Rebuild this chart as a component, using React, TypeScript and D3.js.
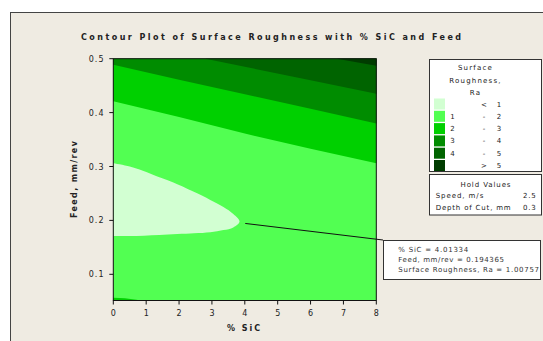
import * as d3 from 'd3';

// axes
const SIC_DOMAIN: [number, number] = [0, 8];
const FEED_DOMAIN: [number, number] = [0.0514, 0.5];
const SIC_TICKS = [0, 1, 2, 3, 4, 5, 6, 7, 8];
const FEED_TICKS = [0.1, 0.2, 0.3, 0.4, 0.5];

// contour bands, Ra
const BAND_COLORS = ['#d2ffd2', '#52ff52', '#00d000', '#008c00', '#006400', '#003c00'];
const LEGEND_LO = ['', '1', '2', '3', '4', ''];
const LEGEND_SYM = ['<', '-', '-', '-', '-', '>'];
const LEGEND_HI = ['1', '2', '3', '4', '5', '5'];

// contour lines: [% SiC, feed]
const RA2_LINE = [[0, 0.421], [2, 0.392], [4, 0.361], [6, 0.333], [8, 0.306]];
const RA3_LINE = [[0, 0.489], [2, 0.461], [4, 0.434], [6, 0.407], [8, 0.38]];
const RA4_LINE = [[2.8, 0.5], [4, 0.485], [6, 0.46], [8, 0.435]];
const RA5_LINE = [[6.8, 0.5], [8, 0.487]];
const RA1_REGION = [
  [0, 0.306], [0.5, 0.3], [0.9, 0.292], [1.4, 0.28], [1.75, 0.272], [2.45, 0.253],
  [2.95, 0.238], [3.35, 0.225], [3.65, 0.212], [3.84, 0.198], [3.65, 0.187],
  [3.35, 0.182], [2.95, 0.178], [2.45, 0.176], [1.4, 0.173], [0.5, 0.171], [0, 0.171],
];
const RA2_CORNER = [[0, 0.0514], [0, 0.0565], [0.35, 0.0555], [0.7, 0.053], [0.85, 0.0514]];

// hold values + crosshair readout
const HOLD_LABELS = ['Speed, m/s', 'Depth of Cut, mm'];
const HOLD_VALUES = ['2.5', '0.3'];
const PROBE = { sic: 4.01334, feed: 0.194365, ra: 1.00757 };

const FONT = 'DejaVu Sans, Verdana, sans-serif';
const INK = '#222';

export default function App() {
  const W = 543, H = 341;
  const x = d3.scaleLinear().domain(SIC_DOMAIN).range([113.3, 376.3]);
  const y = d3.scaleLinear().domain(FEED_DOMAIN).range([300.5, 58.7]);
  const top = y(FEED_DOMAIN[1]), bottom = y(FEED_DOMAIN[0]);
  const left = x(SIC_DOMAIN[0]), right = x(SIC_DOMAIN[1]);

  const above = d3.area<number[]>().x(d => x(d[0])).y0(top).y1(d => y(d[1]));
  const closed = d3.line<number[]>().x(d => x(d[0])).y(d => y(d[1])).curve(d3.curveCatmullRom);
  const poly = d3.line<number[]>().x(d => x(d[0])).y(d => y(d[1]));

  const px = x(PROBE.sic), py = y(PROBE.feed);
  const box = { x: 383, y: 240, w: 157, h: 39 };

  return (
    <div style={{ position: 'fixed', left: 0, top: 0 }}>
      <svg width={W} height={H} style={{ display: 'block', background: '#fff' }}>
        <rect x={10.5} y={12.5} width={600} height={400} fill="#efebe2" stroke="#444" />

        <text x={271} y={40} textAnchor="middle" fontFamily={FONT} fontSize={8} fontWeight="bold"
          fill={INK} textLength={380} lengthAdjust="spacing">
          Contour Plot of Surface Roughness with % SiC and Feed
        </text>

        {/* bands */}
        <rect x={left} y={top} width={right - left} height={bottom - top} fill={BAND_COLORS[1]} />
        <path d={above(RA2_LINE) ?? ''} fill={BAND_COLORS[2]} />
        <path d={above(RA3_LINE) ?? ''} fill={BAND_COLORS[3]} />
        <path d={above(RA4_LINE) ?? ''} fill={BAND_COLORS[4]} />
        <path d={above(RA5_LINE) ?? ''} fill={BAND_COLORS[5]} />
        <path d={(poly(RA2_CORNER) ?? '') + 'Z'} fill={BAND_COLORS[2]} />
        <path d={(closed(RA1_REGION) ?? '') + 'Z'} fill={BAND_COLORS[0]} />

        <rect x={left} y={top} width={right - left} height={bottom - top} fill="none" stroke="#111" />

        {FEED_TICKS.map(t => (
          <g key={t}>
            <line x1={left - 4} x2={left} y1={y(t)} y2={y(t)} stroke="#111" />
            <text x={104.5} y={y(t) + 3} textAnchor="end" fontFamily={FONT} fontSize={8}
              letterSpacing={1} fill={INK}>{t.toFixed(1)}</text>
          </g>
        ))}
        {SIC_TICKS.map(t => (
          <g key={t}>
            <line x1={x(t)} x2={x(t)} y1={bottom} y2={bottom + 4} stroke="#111" />
            <text x={x(t)} y={316} textAnchor="middle" fontFamily={FONT} fontSize={8} fill={INK}>{t}</text>
          </g>
        ))}
        <text x={243.5} y={330.5} textAnchor="middle" fontFamily={FONT} fontSize={8} fontWeight="bold"
          fill={INK} textLength={33} lengthAdjust="spacing">% SiC</text>
        <text transform={`translate(77,${(top + bottom) / 2}) rotate(-90)`} textAnchor="middle"
          fontFamily={FONT} fontSize={8} fontWeight="bold" fill={INK} textLength={77}
          lengthAdjust="spacing">Feed, mm/rev</text>

        {/* legend */}
        <rect x={429.5} y={59.5} width={112} height={112} fill="#fff" stroke="#333" />
        {['Surface', 'Roughness,', 'Ra'].map((s, i) => (
          <text key={s} x={475.5} y={70 + i * 12.5} textAnchor="middle" fontFamily={FONT} fontSize={7}
            letterSpacing={1.2} fill={INK}>{s}</text>
        ))}
        {BAND_COLORS.map((c, i) => {
          const cy = 104 + i * 12.3;
          return (
            <g key={c}>
              <rect x={434} y={cy - 5.5} width={11} height={11} fill={c} />
              <text x={452.5} y={cy + 2.5} textAnchor="middle" fontFamily={FONT} fontSize={7} fill={INK}>{LEGEND_LO[i]}</text>
              <text x={484} y={cy + 2.5} textAnchor="middle" fontFamily={FONT} fontSize={7} fill={INK}>{LEGEND_SYM[i]}</text>
              <text x={499} y={cy + 2.5} textAnchor="middle" fontFamily={FONT} fontSize={7} fill={INK}>{LEGEND_HI[i]}</text>
            </g>
          );
        })}

        <rect x={429.5} y={174.5} width={112} height={40.5} fill="#fff" stroke="#333" />
        <text x={485.5} y={187} textAnchor="middle" fontFamily={FONT} fontSize={7} fill={INK}
          textLength={50} lengthAdjust="spacing">Hold Values</text>
        {HOLD_LABELS.map((s, i) => (
          <g key={s}>
            <text x={435.7} y={198 + i * 12} fontFamily={FONT} fontSize={7} fill={INK}
              textLength={i ? 75 : 47.6} lengthAdjust="spacing">{s}</text>
            <text x={536.5} y={198 + i * 12} textAnchor="end" fontFamily={FONT} fontSize={7}
              letterSpacing={0.8} fill={INK}>{HOLD_VALUES[i]}</text>
          </g>
        ))}

        {/* probe */}
        <line x1={px} y1={py} x2={box.x} y2={box.y} stroke="#111" />
        <rect x={box.x + 0.5} y={box.y + 0.5} width={box.w} height={box.h} fill="#fff" stroke="#333" />
        {[
          [`% SiC = ${PROBE.sic}`, 70],
          [`Feed, mm/rev = ${PROBE.feed}`, 105.7],
          [`Surface Roughness, Ra = ${PROBE.ra}`, 140.7],
        ].map(([s, len], i) => (
          <text key={i} x={398.3} y={251.5 + i * 10} fontFamily={FONT} fontSize={7} fill="#333"
            textLength={len as number} lengthAdjust="spacing">{s}</text>
        ))}
      </svg>
    </div>
  );
}
